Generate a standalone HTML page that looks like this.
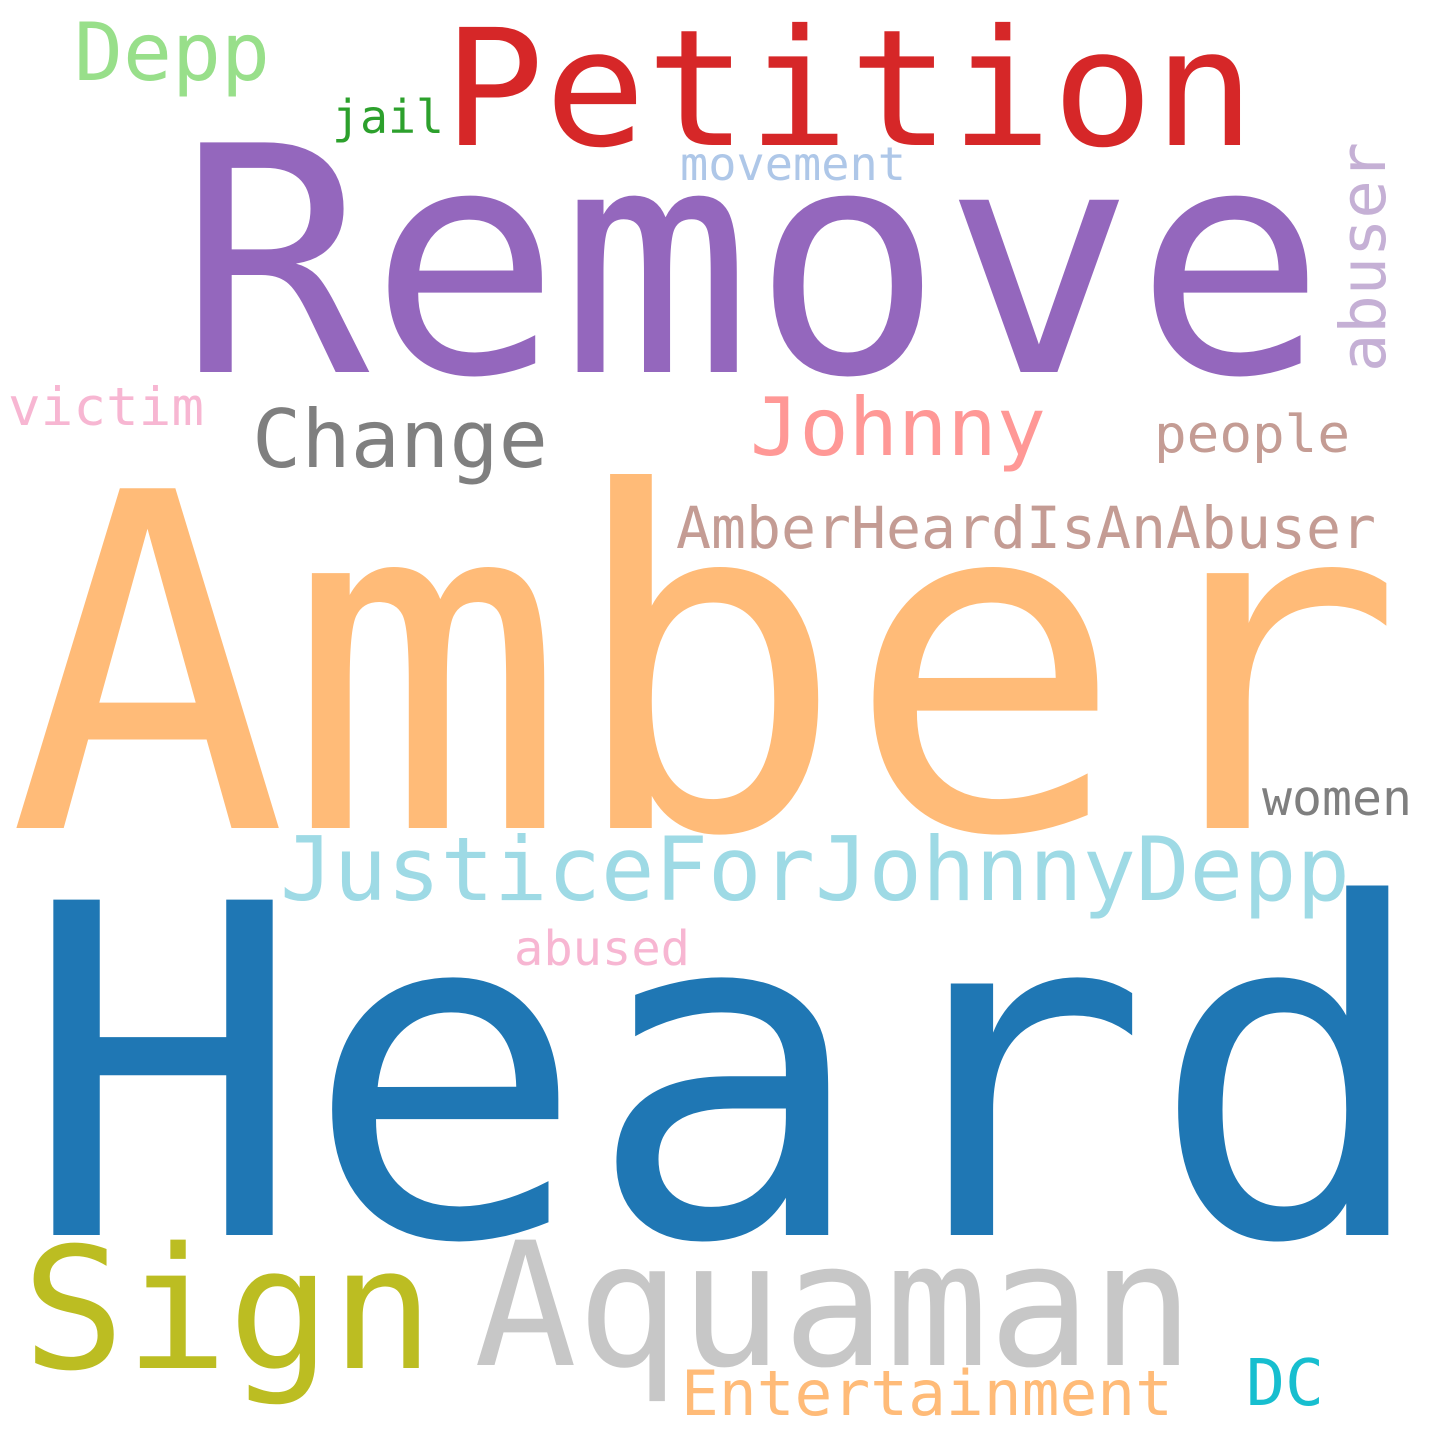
<!DOCTYPE html>
<html><head><meta charset="utf-8"><style>
html,body{margin:0;padding:0;background:#fff;}
svg{display:block}
text{font-family:"DejaVu Sans Mono","Liberation Mono",monospace;}
</style></head><body>
<svg id="cloud" width="1440" height="1440" viewBox="0 0 1440 1440" xmlns="http://www.w3.org/2000/svg">
<rect width="1440" height="1440" fill="#fff"/>
</svg>
<script>
const words = ["Heard","Amber","Remove","Petition","Sign","Aquaman","JusticeForJohnnyDepp","AmberHeardIsAnAbuser","Change","Johnny","Depp","jail","movement","victim","people","women","abused","Entertainment","DC","abuser"];
const sizes = [460,466,315,162,169,172,88,58,80,80,80,46,46,53,52,49,48,62,64,63];
const colors = ["#1f77b4","#ffbb78","#9467bd","#d62728","#bcbd22","#c7c7c7","#9edae5","#c49c94","#7f7f7f","#ff9896","#98df8a","#2ca02c","#aec7e8","#f7b6d2","#c49c94","#7f7f7f","#f7b6d2","#ffbb78","#17becf","#c5b0d5"];
const xs = [22,8,178,443,22,474,280,676,252,750,74,332,680,8,1154,1262,514,681,1246,1385];
const ys = [1235,828,372,145,1368,1365,900,548,467,455,80,133,180,425,452,815,965,1415,1405,372];
const spans = [1410,1396,1148,812,412,720,1070,700,296,296,196,112,226,196,196,150,176,492,78,230];
const rot = [0,0,0,0,0,0,0,0,0,0,0,0,0,0,0,0,0,0,0,-90];
const svg = document.getElementById('cloud');
const NS = "http://www.w3.org/2000/svg";
words.forEach((w,i)=>{
  const t = document.createElementNS(NS,'text');
  
  
  t.setAttribute('font-size', sizes[i]);
  t.setAttribute('fill', colors[i]);
  t.setAttribute('textLength', spans[i]);
  t.setAttribute('lengthAdjust', 'spacingAndGlyphs');
  if (rot[i]) {
    t.setAttribute('x', 0); t.setAttribute('y', 0);
    t.setAttribute('transform', `translate(${xs[i]},${ys[i]}) rotate(${rot[i]})`);
  } else {
    t.setAttribute('x', xs[i]); t.setAttribute('y', ys[i]);
  }
  t.textContent = w;
  svg.appendChild(t);
});
</script>
</body></html>
